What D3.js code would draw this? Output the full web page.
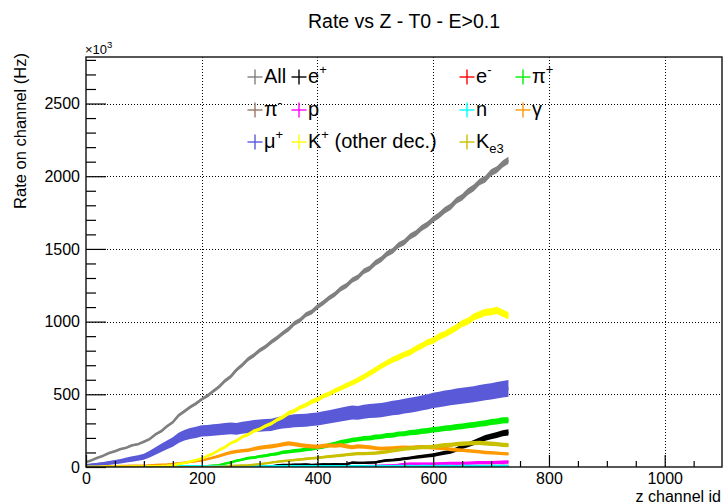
<!DOCTYPE html>
<html><head><meta charset="utf-8">
<script src="https://cdn.jsdelivr.net/npm/d3@7"></script>
<style>
body{margin:0;background:#fff;}
svg text{font-family:"Liberation Sans",Arial,Helvetica,sans-serif;fill:#000;}
</style></head><body>
<svg id="chart" width="725" height="504"></svg>
<script>
// Channel ids (bin starts) shared by every histogram
const channelStep = 10;
const channels = d3.range(0, 731, channelStep);

// Rates per channel, in units of 10^3 Hz
const allRate = [34,47,64,78,96,108,124,133,150,157,
  174,192,224,246,280,308,355,383,412,436,
  466,490,522,552,592,622,668,702,742,768,
  802,826,860,888,920,948,988,1010,1048,1066,
  1102,1130,1162,1188,1226,1248,1285,1306,1346,1366,
  1404,1428,1466,1486,1526,1546,1586,1608,1644,1668,
  1704,1730,1766,1790,1832,1856,1894,1920,1960,1980,
  2024,2046,2084,2110];
const ePlusRate = [0,1,0,2,0,1,0,3,1,0,2,1,0,
  3,2,5,1,3,4,2,3,2,6,3,2,8,3,2,5,4,3,6,4,12,
  15,14,17,16,18,15,17,19,18,20,19,
  20,30,28,28,30,32,40,45,48,52,57,62,68,72,78,82,90,98,105,120,140,152,168,185,200,210,220,232,238];
const eMinusRate = [1,2,1,2,1,1,2,1,2,1, 2,1,2,2,1,2,3,2,2,3, 2,3,2,3,3,2,3,2,3,3,
  2,3,3,2,3,3,4,3,3,4, 3,3,4,3,4,4,3,4,4,5, 4,4,5,4,5,5,4,5,5,6,
  5,5,6,5,6,6,5,6,6,7, 6,7,6,7];
const piPlusRate = [2,2,3,2,3,3,2,3,3,4,3,4,3,4,4,5,4,5,5,6,6,
  6,10,13,23,31,43,51,61,65,73,77,86,91,101,105,111,114,121,125,133,
  139,151,159,171,177,186,191,197,199,206,209,216,219,227,229,237,239,246,249,256,
  259,266,269,276,279,286,289,297,301,309,313,321,322];
const piMinusRate = [2,3,2,3,2,3,3,2,3,3, 3,4,3,3,4,3,4,4,3,4, 4,5,4,4,5,4,5,5,4,5,
  5,5,6,5,5,6,5,6,6,5, 6,6,7,6,6,7,6,7,7,6, 7,7,8,7,7,8,7,8,8,7,
  8,8,9,8,8,9,8,9,9,8, 9,9,10,9];
const protonRate = [4,6,8,6,5,4,3,3,4,3, 3,2,3,3,2,3,3,2,3,3, 3,3,2,3,3,2,3,3,3,2,
  3,3,3,2,3,3,3,3,2,3, 4,3,4,4,5,
  5,6,6,7,8,8,9,10,12,15,20,22,22,21,22,22,23,24,25,25,26,27,28,30,30,30,32,33,34];
const neutronRate = [3,4,4,3,4,4,4,3,4,4, 4,4,3,4,4,5,4,4,4,5, 4,4,5,4,4,5,4,5,4,5,
  5,4,5,5,4,5,5,5,4,5, 5,5,5,4,5,5,5,6,5,5, 5,6,5,5,6,5,6,5,6,6,
  5,6,6,6,5,6,6,6,6,5, 6,6,6,6];
const gammaRate = [3,4,5,6,6,7,8,8,9,10, 10,12,14,16,18,22,26,30,35,40,
  46,55,65,75,88,100,106,112,115,125, 132,138,142,148,155,162,158,150,145,142,
  140,145,148,146,150,142,136,142,140,136, 130,126,128,130,132,135,132,136,138,136,
  134,130,128,122,118,115,112,108,105,100, 98,95,92,90];
const muPlusRate = [10,14,18,22,28,34,40,48,55,62, 70,88,110,132,152,172,200,218,230,238,
  248,250,255,258,262,265,262,270,275,282, 285,288,290,300,308,312,318,320,322,326,
  330,338,345,352,360,368,375,372,380,385, 388,392,398,405,410,418,425,432,440,448,
  458,465,472,478,485,490,495,500,508,515, 520,528,535,540];
const kPlusRate = [2,2,2,3,2,3,3,2,3,3, 3,4,5,6,8,12,20,28,38,48,
  58,77,93,117,136,164,180,207,223,247, 260,282,298,324,343,370,386,410,426,450,
  463,487,503,524,542,561,578,598,620,644, 668,694,716,738,754,774,788,814,833,857,
  870,897,913,937,958,987,1003,1032,1048,1064, 1068,1077,1058,1040];
const ke3Rate = [0,0,0,0,0,0,0,0,0,0, 0,0,0,0,0,0,0,0,0,0,
  0,1,1,2,3,8,10,11,12,16, 20,25,30,36,40,44,48,52,56,60,
  63,68,72,76,80,84,88,92,92,94, 95,100,105,112,118,124,128,132,135,138,
  140,145,150,152,158,160,162,164,166,162, 160,158,152,150];

const seriesNames = ["All","e+","e-","π+","π-","p","n","γ","μ+","K+ (other dec.)","Ke3"];

const xTicks = [0,200,400,600,800,1000];
const yTicks = [0,500,1000,1500,2000,2500];

// drawing styles: line width plus an error band scaled with sqrt(rate)
const series = [
  {values: allRate,     color: "#808080", width: 2.6, band: 0.075, label: [["All"]]},
  {values: ePlusRate,   color: "#000000", width: 2.2, band: 0.2,   label: [["e"],["+","sup"]]},
  {values: eMinusRate,  color: "#ff0000", width: 2,   label: [["e"],["-","sup"]]},
  {values: piPlusRate,  color: "#00f000", width: 2.4, band: 0.17,  label: [["π"],["+","sup"]]},
  {values: piMinusRate, color: "#997766", width: 2,   label: [["π"],["-","sup"]]},
  {values: protonRate,  color: "#ff00ff", width: 2.2, band: 0.3,   label: [["p"]]},
  {values: neutronRate, color: "#00ffff", width: 2.6, label: [["n"]]},
  {values: gammaRate,   color: "#ff9900", width: 2.2, band: 0.17,  label: [["γ"]]},
  {values: muPlusRate,  color: "#5a5ad8", width: 3,   band: 0.36,  label: [["μ"],["+","sup"]]},
  {values: kPlusRate,   color: "#ffff00", width: 2.6, band: 0.11,  label: [["K"],["+","sup"],[" (other dec.)"]]},
  {values: ke3Rate,     color: "#c8c000", width: 2.2, band: 0.17,  label: [["K"],["e3","sub"]]}
];
series.forEach((s, i) => s.name = seriesNames[i]);

const svg = d3.select("#chart");
const frame = {left: 86, right: 722, top: 57, bottom: 467};

const x = d3.scaleLinear().domain([0, 1099]).range([frame.left, frame.right]);
const y = d3.scaleLinear().domain([0, 2820]).range([frame.bottom, frame.top]);

// title
svg.append("text").attr("x", (frame.left + frame.right) / 2).attr("y", 28)
  .attr("text-anchor", "middle").style("font-size", "19.5px")
  .text("Rate vs Z - T0 - E>0.1");

// grid
const grid = svg.append("g").attr("stroke", "#000").attr("stroke-width", 1)
  .attr("stroke-dasharray", "1,2").attr("shape-rendering", "crispEdges");
grid.selectAll("line.gx").data(xTicks.filter(d => d > 0)).join("line")
  .attr("x1", d => Math.round(x(d)) + 0.5).attr("x2", d => Math.round(x(d)) + 0.5)
  .attr("y1", frame.top).attr("y2", frame.bottom);
grid.selectAll("line.gy").data(yTicks.filter(d => d > 0)).join("line")
  .attr("y1", d => Math.round(y(d)) + 0.5).attr("y2", d => Math.round(y(d)) + 0.5)
  .attr("x1", frame.left).attr("x2", frame.right);

// data
svg.append("clipPath").attr("id", "plotclip").append("rect")
  .attr("x", frame.left).attr("y", frame.top)
  .attr("width", frame.right - frame.left).attr("height", frame.bottom - frame.top);
const plot = svg.append("g").attr("clip-path", "url(#plotclip)");

const line = d3.line().x((d, i) => x(channels[i])).y(d => y(d));
series.forEach(s => {
  if (s.band) {
    const area = d3.area()
      .x((d, i) => x(channels[i]))
      .y0(d => y(d) + s.band * Math.sqrt(d))
      .y1(d => y(d) - s.band * Math.sqrt(d));
    plot.append("path").datum(s.values).attr("d", area).attr("fill", s.color);
  }
  plot.append("path").datum(s.values).attr("d", line)
    .attr("fill", "none").attr("stroke", s.color)
    .attr("stroke-width", s.width).attr("stroke-linejoin", "round");
});

// axes
svg.append("g").attr("transform", `translate(${frame.left},0)`)
  .call(d3.axisLeft(y).tickValues(yTicks).tickSize(-20).tickPadding(6).tickFormat(d3.format("d")));
svg.append("g").attr("transform", `translate(${frame.left},0)`)
  .call(d3.axisLeft(y).tickValues(d3.range(0, 2801, 100).filter(v => v % 500)).tickSize(-10).tickFormat(""));
svg.append("g").attr("transform", `translate(0,${frame.bottom})`)
  .call(d3.axisBottom(x).tickValues(xTicks).tickSize(-12).tickPadding(6).tickFormat(d3.format("d")));
svg.append("g").attr("transform", `translate(0,${frame.bottom})`)
  .call(d3.axisBottom(x).tickValues(d3.range(0, 1099, 50).filter(v => v % 200)).tickSize(-6).tickFormat(""));
svg.selectAll(".domain").remove();
svg.selectAll(".tick line").attr("stroke", "#000").attr("stroke-width", 1.2);
svg.selectAll(".tick text").style("font-size", "16px").attr("fill", "#000")
  .style("font-family", "'Liberation Sans',Arial,sans-serif");

// frame
svg.append("rect").attr("x", frame.left).attr("y", frame.top)
  .attr("width", frame.right - frame.left).attr("height", frame.bottom - frame.top)
  .attr("fill", "none").attr("stroke", "#111").attr("stroke-width", 1.4);

// exponent marker
const ex = svg.append("text").attr("x", frame.left - 1).attr("y", 54).style("font-size", "13px");
ex.append("tspan").text("×10");
ex.append("tspan").attr("dy", -6).style("font-size", "9.5px").text("3");

// axis titles
svg.append("text").attr("x", frame.right - 1).attr("y", 501.5)
  .attr("text-anchor", "end").style("font-size", "16px").text("z channel id");
svg.append("text").attr("transform", "translate(25.5,53) rotate(-90)")
  .attr("text-anchor", "end").style("font-size", "16.5px").text("Rate on channel (Hz)");

// legend
const colX = [255, 299, 467, 523];
const rowBase = [83, 116, 148];
const legend = svg.append("g");
series.forEach((s, i) => {
  const cx = colX[i % 4], base = rowBase[Math.floor(i / 4)], cy = base - 6;
  const g = legend.append("g");
  g.append("line").attr("x1", cx - 7.5).attr("x2", cx + 7.5).attr("y1", cy).attr("y2", cy)
    .attr("stroke", s.color).attr("stroke-width", 1.4);
  g.append("line").attr("x1", cx).attr("x2", cx).attr("y1", cy - 7.5).attr("y2", cy + 7.5)
    .attr("stroke", s.color).attr("stroke-width", 1.4);
  const t = g.append("text").attr("x", cx + 9).attr("y", base).style("font-size", "20px");
  let shift = 0;
  s.label.forEach(([str, kind]) => {
    const ts = t.append("tspan").text(str);
    const target = kind === "sup" ? -9 : kind === "sub" ? 5 : 0;
    ts.attr("dy", target - shift);
    shift = target;
    if (kind) ts.style("font-size", "13px");
  });
});
</script>
</body></html>
